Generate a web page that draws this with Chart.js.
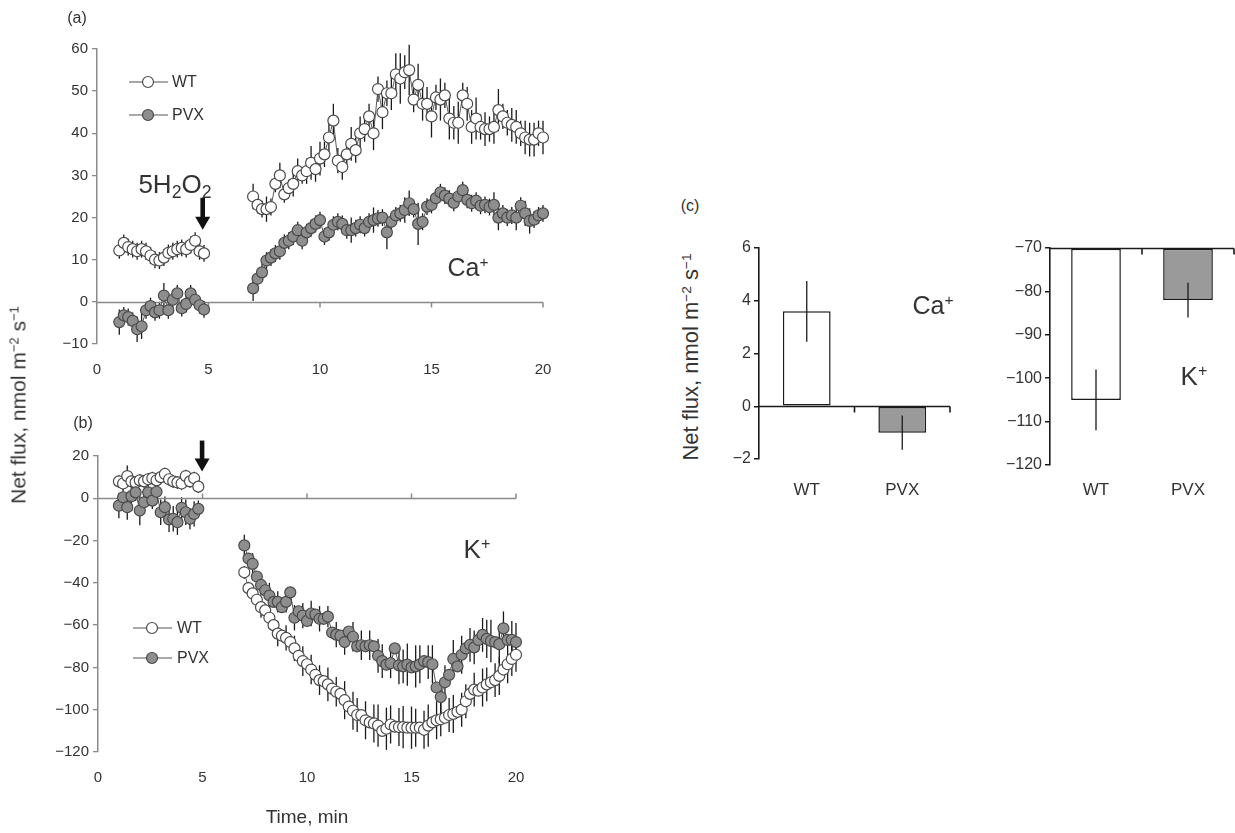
<!DOCTYPE html>
<html>
<head>
<meta charset="utf-8">
<script src="https://cdn.jsdelivr.net/npm/chart.js@4.4.1/dist/chart.umd.min.js"></script>
<style>
  body { margin: 0; background: #fff; }
  #wrap { position: relative; width: 1235px; height: 833px; overflow: hidden;
          font-family: "Liberation Sans", Arial, sans-serif; color: #333; }
  #wrap canvas { position: absolute; }
  .t { position: absolute; transform: translate(-50%, -50%); white-space: nowrap; line-height: 1; }
  .rot { transform: translate(-50%, -50%) rotate(-90deg); }
  sup { font-size: 0.62em; vertical-align: 0.55em; line-height: 0; }
  sub { font-size: 0.68em; vertical-align: -0.3em; line-height: 0; }
</style>
</head>
<body>
<div id="wrap">
  <canvas id="chartA" width="570" height="395" style="left:0;top:0"></canvas>
  <canvas id="chartB" width="570" height="438" style="left:0;top:395px"></canvas>
  <canvas id="chartCa" width="260" height="290" style="left:710px;top:220px"></canvas>
  <canvas id="chartK" width="245" height="290" style="left:990px;top:220px"></canvas>

  <div class="t" style="left:77px;top:18px;font-size:16px">(a)</div>
  <div class="t" style="left:83px;top:423px;font-size:16px">(b)</div>
  <div class="t" style="left:690px;top:206px;font-size:16px">(c)</div>
  <div class="t rot" style="left:18px;top:405px;font-size:21px">Net flux, nmol m<sup>−2</sup> s<sup>−1</sup></div>
  <div class="t rot" style="left:691px;top:357px;font-size:22px">Net flux, nmol m<sup>−2</sup> s<sup>−1</sup></div>
  <div class="t" style="left:175px;top:184px;font-size:26px">5H<sub>2</sub>O<sub>2</sub></div>
  <div class="t" style="left:468px;top:267px;font-size:25px">Ca<sup>+</sup></div>
  <div class="t" style="left:477px;top:549px;font-size:26px">K<sup>+</sup></div>
  <div class="t" style="left:933px;top:305px;font-size:25px">Ca<sup>+</sup></div>
  <div class="t" style="left:1194px;top:376px;font-size:26px">K<sup>+</sup></div>
</div>
<script>
// time points, min
const timeEarly = [1.0, 1.2, 1.4, 1.6, 1.8, 2.0, 2.2, 2.4, 2.6, 2.8, 3.0, 3.2, 3.4, 3.6, 3.8, 4.0, 4.2, 4.4, 4.6, 4.8];
const timeLate = [7.0, 7.2, 7.4, 7.6, 7.8, 8.0, 8.2, 8.4, 8.6, 8.8, 9.0, 9.2, 9.4, 9.6, 9.8,
  10.0, 10.2, 10.4, 10.6, 10.8, 11.0, 11.2, 11.4, 11.6, 11.8, 12.0, 12.2, 12.4, 12.6, 12.8,
  13.0, 13.2, 13.4, 13.6, 13.8, 14.0, 14.2, 14.4, 14.6, 14.8, 15.0, 15.2, 15.4, 15.6, 15.8,
  16.0, 16.2, 16.4, 16.6, 16.8, 17.0, 17.2, 17.4, 17.6, 17.8, 18.0, 18.2, 18.4, 18.6, 18.8,
  19.0, 19.2, 19.4, 19.6, 19.8, 20.0];

// (a) Ca+ flux
const caWTEarly = [12.2, 14, 13, 12.5, 12, 12.5, 12, 11, 10, 9.8, 10.5, 11.6, 12, 12.5, 12.8, 12.5, 13.5, 14.5, 12, 11.5];
const caWTEarlyErr = [2, 2, 2, 2, 2, 2, 2, 2, 2, 2, 2, 2, 2, 2, 2, 2, 2, 2, 2, 2];
const caPVXEarly = [-4.8, -3.2, -3.6, -4.5, -6.5, -5.8, -2, -1, -2.5, -2, 1.5, -2, 0.5, 2, -1.5, -0.5, 2, 0.5, -0.8, -1.8];
const caPVXEarlyErr = [3, 2, 2, 2, 3, 3, 2, 2, 2, 2, 3, 2, 2, 2, 2, 2, 2, 2, 2, 2];
const caWTLate = [25, 23, 22, 22, 22.5, 28, 30, 25.5, 27, 28, 31, 30, 31, 33, 31.5,
  34, 35, 39, 43, 33.5, 32, 35, 37.5, 36, 40, 41, 44, 40, 50.5, 45,
  49.5, 49.5, 54, 53, 54.5, 55, 48, 51.5, 47, 47, 44, 48.5, 48, 49, 43.5,
  42.5, 42.5, 49, 47, 41.5, 43.5, 41.5, 41, 41, 41.5, 45.5, 44, 42.5, 42, 41.5,
  40, 39, 38.5, 38.5, 40, 39];
const caWTLateErr = [3, 2, 2, 3, 2, 2, 3, 2, 2, 3, 3, 2, 3, 4, 3,
  4, 3, 4, 4, 3, 3, 3, 4, 3, 4, 3, 3, 4, 3, 4,
  3, 4, 5, 6, 4, 6, 3, 5, 4, 4, 5, 3, 5, 3, 5,
  4, 5, 3, 4, 4, 5, 3, 4, 3, 4, 5, 3, 3, 4, 4,
  3, 4, 4, 4, 3, 4];
const caPVXLate = [3.2, 5.5, 7, 9.8, 10.5, 11.5, 12, 14, 14.5, 15.5, 17, 14.5, 16.5, 17.5, 18.5,
  19.4, 15.5, 16.5, 18.3, 19, 18.5, 17, 17, 17.5, 18.3, 17.5, 19, 19.4, 19.8, 20,
  16.5, 19, 20.5, 21, 21.8, 23.4, 22, 18.5, 19, 22.6, 23, 24.6, 26, 25.2, 24.5,
  23.5, 25, 26.5, 24.2, 23.4, 24, 22.8, 23, 22.5, 23, 20, 21, 20, 20.5, 20,
  22.8, 21, 19.2, 19.5, 20.5, 21];
const caPVXLateErr = [3, 2, 2, 2, 2, 2, 2, 2, 2, 2, 2, 2, 2, 2, 2,
  2, 2, 2, 2, 2, 2, 2, 3, 2, 2, 2, 2, 3, 2, 2,
  4, 2, 2, 2, 3, 3, 2, 5, 2, 2, 2, 2, 2, 2, 2,
  2, 2, 2, 2, 2, 2, 2, 2, 2, 3, 3, 2, 2, 2, 3,
  2, 3, 3, 2, 2, 2];

// (b) K+ flux
const kWTEarly = [8, 7, 10.5, 8, 7.5, 8.5, 8, 9, 9.5, 8.5, 10, 11.5, 9, 8, 7.5, 7, 10.5, 8, 9.5, 5.5];
const kWTEarlyErr = [3, 3, 5, 3, 3, 3, 3, 3, 3, 3, 3, 3, 3, 3, 3, 3, 3, 3, 3, 3];
const kPVXEarly = [-3.5, 0.5, -4.2, 1, 2.8, -5.8, -1.9, 2.8, -1.1, 3.1, -6.6, -4.2, -10, -9.7, -11.3, -4.5, -6.6, -9.7, -7.4, -5];
const kPVXEarlyErr = [6, 4, 6, 4, 4, 7, 4, 4, 4, 4, 6, 5, 6, 6, 6, 5, 6, 5, 6, 4];
const kWTLate = [-35, -42.5, -45, -48, -51.5, -53, -56.5, -60, -64, -65, -66, -68, -71, -74.5, -77,
  -78.5, -81, -83.5, -86, -86.5, -88, -90, -91.5, -92.5, -95.5, -98.5, -100.5, -102.5, -102.6, -105,
  -106, -106.5, -107.5, -110, -109, -107, -108, -108.2, -108.2, -108.5, -108.5, -108.5, -108.5, -109.5, -107.5,
  -106, -105, -104.5, -103.8, -102.5, -102, -101, -100, -96, -92.5, -90.5, -91, -89.5, -88, -87,
  -86, -84, -81, -78.5, -76, -74];
const kWTLateErr = [3, 3, 3, 4, 5, 2, 5, 2, 6, 2, 6, 2, 6, 2, 7,
  2, 7, 2, 7, 2, 8, 2, 7, 2, 9, 2, 9, 8, 2, 9,
  2, 9, 10, 2, 10, 9, 2, 9, 10, 2, 10, 9, 2, 9, 10,
  2, 9, 8, 2, 8, 9, 2, 8, 8, 2, 8, 2, 9, 8, 2,
  8, 9, 2, 9, 8, 8];
const kPVXLate = [-22.3, -28.5, -31, -37, -41, -43.5, -46, -49, -49, -51.5, -49, -44.5, -56.5, -53.5, -55.5,
  -58, -54.5, -55, -57, -57, -56, -63.5, -64.5, -65, -68, -63, -65.5, -70, -69.5, -70,
  -69.5, -70, -74.5, -77, -78.7, -78, -71, -79, -79.5, -78.7, -80, -79.5, -78.5, -77, -77.5,
  -78.5, -89.5, -94, -87, -83.5, -76, -79.5, -74, -71, -69.3, -70.5, -67, -64.6, -66.5, -67.5,
  -68, -69, -61.5, -67, -67, -68];
const kPVXLateErr = [5, 2, 5, 2, 5, 2, 6, 2, 5, 2, 5, 2, 6, 2, 6,
  2, 6, 2, 6, 2, 5, 2, 6, 2, 6, 2, 7, 2, 7, 2,
  7, 2, 8, 8, 2, 7, 2, 9, 8, 10, 2, 10, 9, 2, 8,
  9, 2, 8, 8, 2, 9, 2, 9, 2, 8, 8, 2, 8, 9, 10,
  2, 9, 8, 2, 9, 9];

// (c) mean fluxes
const groups = ['WT', 'PVX'];
const caMean = [3.6, -1.0];
const caErr = [1.15, 0.65];
const kMean = [-105, -82];
const kErr = [7, 4];

const FONT = '"Liberation Sans", Arial, sans-serif';
Chart.defaults.font.family = FONT;
Chart.defaults.color = '#333';

const minus = v => String(v).replace('-', '\u2212');
const pts = (t, v) => t.map((x, i) => ({ x: x, y: v[i] }));

// vertical error bars through the chart's own scales
const errorBars = {
  id: 'errorBars',
  beforeDatasetsDraw(chart, args, o) { if (!o.front) drawErr(chart); },
  afterDatasetsDraw(chart, args, o) { if (o.front) drawErr(chart); }
};
function drawErr(chart) {
  const ctx = chart.ctx, ys = chart.scales.y;
  ctx.save();
  ctx.strokeStyle = '#1a1a1a';
  ctx.lineWidth = 1.3;
  chart.data.datasets.forEach((ds, i) => {
    if (!ds.err) return;
    chart.getDatasetMeta(i).data.forEach((el, j) => {
      const v = typeof ds.data[j] === 'object' ? ds.data[j].y : ds.data[j];
      const e = ds.err[j];
      ctx.beginPath();
      ctx.moveTo(el.x, ys.getPixelForValue(v + e));
      ctx.lineTo(el.x, ys.getPixelForValue(v - e));
      ctx.stroke();
    });
  });
  ctx.restore();
}

// horizontal axis line drawn at a value (zero line / top line)
const baseLine = {
  id: 'baseLine',
  beforeDatasetsDraw(chart, args, o) {
    if (o.value == null) return;
    const { ctx, chartArea, scales: { x, y } } = chart;
    const py = Math.round(y.getPixelForValue(o.value)) + 0.5;
    ctx.save();
    ctx.strokeStyle = o.color;
    ctx.lineWidth = o.width;
    ctx.beginPath();
    ctx.moveTo(chartArea.left, py);
    ctx.lineTo(chartArea.right, py);
    o.ticks.forEach(t => {
      const px = x.getPixelForValue(t);
      ctx.moveTo(px, py);
      ctx.lineTo(px, py + o.tickLen);
    });
    ctx.stroke();
    ctx.restore();
  }
};

// legend drawn inside the plot: line, marker, label
const inlineLegend = {
  id: 'inlineLegend',
  afterDraw(chart, args, o) {
    if (!o.items) return;
    const ctx = chart.ctx;
    ctx.save();
    o.items.forEach(it => {
      ctx.strokeStyle = '#555';
      ctx.lineWidth = 1.2;
      ctx.beginPath();
      ctx.moveTo(o.x0, it.y);
      ctx.lineTo(o.x1, it.y);
      ctx.stroke();
      ctx.beginPath();
      ctx.arc(o.xc, it.y, 5.5, 0, Math.PI * 2);
      ctx.fillStyle = it.fill;
      ctx.fill();
      ctx.strokeStyle = '#4a4a4a';
      ctx.stroke();
      ctx.fillStyle = '#333';
      ctx.font = '16px ' + FONT;
      ctx.textBaseline = 'middle';
      ctx.fillText(it.text, o.xt, it.y + 1);
    });
    ctx.restore();
  }
};

// treatment arrow
const arrow = {
  id: 'arrow',
  afterDraw(chart, args, o) {
    if (o.x == null) return;
    const { ctx, scales: { x, y } } = chart;
    const px = x.getPixelForValue(o.x);
    const y0 = y.getPixelForValue(o.from), y1 = y.getPixelForValue(o.to);
    ctx.save();
    ctx.fillStyle = '#111';
    ctx.fillRect(px - 2.3, y0, 4.6, (y1 - y0) - 12);
    ctx.beginPath();
    ctx.moveTo(px - 7.5, y1 - 13);
    ctx.lineTo(px + 7.5, y1 - 13);
    ctx.lineTo(px, y1);
    ctx.closePath();
    ctx.fill();
    ctx.restore();
  }
};

const WT_FILL = '#ffffff', PVX_FILL = '#8e8e8e';

function series(label, t, v, err, fill) {
  return {
    label: label,
    data: pts(t, v),
    err: err,
    showLine: true,
    borderColor: '#5a5a5a',
    borderWidth: 1,
    pointRadius: 5.5,
    pointBackgroundColor: fill,
    pointBorderColor: '#4a4a4a',
    pointBorderWidth: 1.2,
    clip: false
  };
}

function fluxChart(id, datasets, cfg) {
  return new Chart(document.getElementById(id), {
    type: 'scatter',
    data: { datasets: datasets },
    options: {
      responsive: false,
      animation: false,
      layout: { padding: cfg.padding },
      plugins: {
        legend: { display: false },
        tooltip: { enabled: false },
        errorBars: { front: false },
        baseLine: { value: 0, ticks: [5, 10, 15, 20], tickLen: cfg.tickLen, color: '#8a8a8a', width: 1.5 },
        inlineLegend: cfg.legend,
        arrow: cfg.arrow
      },
      scales: {
        x: {
          type: 'linear', min: 0, max: 20,
          ticks: { stepSize: 5, padding: 17, font: { size: 15 }, color: '#333' },
          grid: { display: false, drawTicks: false },
          border: { display: false },
          title: cfg.xTitle || { display: false },
          afterFit: s => { s.height = cfg.xHeight; }
        },
        y: {
          min: cfg.yMin, max: cfg.yMax,
          ticks: { stepSize: cfg.yStep, padding: 4, font: { size: 15 }, color: '#333', callback: minus },
          grid: { display: true, drawOnChartArea: false, drawTicks: true, tickLength: 5, color: '#8a8a8a', lineWidth: 1.3 },
          border: { display: true, color: '#8a8a8a', width: 1.5 },
          afterFit: s => { s.width = cfg.yWidth; }
        }
      }
    },
    plugins: [errorBars, baseLine, inlineLegend, arrow]
  });
}

fluxChart('chartA', [
  series('PVX', timeEarly, caPVXEarly, caPVXEarlyErr, PVX_FILL),
  series('PVX', timeLate, caPVXLate, caPVXLateErr, PVX_FILL),
  series('WT', timeEarly, caWTEarly, caWTEarlyErr, WT_FILL),
  series('WT', timeLate, caWTLate, caWTLateErr, WT_FILL)
], {
  padding: { top: 49, right: 27, bottom: 0, left: 0 },
  xHeight: 51, yWidth: 97, yMin: -10, yMax: 60, yStep: 10, tickLen: 5,
  legend: { x0: 129, x1: 168, xc: 148, xt: 172, items: [
    { text: 'WT', y: 82, fill: WT_FILL }, { text: 'PVX', y: 115, fill: PVX_FILL }] },
  arrow: { x: 4.74, from: 24.7, to: 17.1 }
});

fluxChart('chartB', [
  series('PVX', timeEarly, kPVXEarly, kPVXEarlyErr, PVX_FILL),
  series('PVX', timeLate, kPVXLate, kPVXLateErr, PVX_FILL),
  series('WT', timeEarly, kWTEarly, kWTEarlyErr, WT_FILL),
  series('WT', timeLate, kWTLate, kWTLateErr, WT_FILL)
], {
  padding: { top: 61, right: 54, bottom: 0, left: 0 },
  xHeight: 81, yWidth: 98, yMin: -120, yMax: 20, yStep: 20, tickLen: -5,
  xTitle: { display: true, text: 'Time, min', font: { size: 19 }, color: '#333', padding: { top: 0, bottom: 4 } },
  legend: { x0: 133, x1: 172, xc: 152, xt: 177, items: [
    { text: 'WT', y: 233, fill: WT_FILL }, { text: 'PVX', y: 263, fill: PVX_FILL }] },
  arrow: { x: 4.98, from: 27.3, to: 12.7 }
});

function barChart(id, mean, err, cfg) {
  return new Chart(document.getElementById(id), {
    type: 'bar',
    data: {
      labels: groups,
      datasets: [{
        data: mean,
        err: err,
        base: cfg.base,
        backgroundColor: [WT_FILL, '#9a9a9a'],
        borderColor: '#1a1a1a',
        borderWidth: 1.5,
        borderSkipped: false,
        barPercentage: cfg.barPct,
        categoryPercentage: 1
      }]
    },
    options: {
      responsive: false,
      animation: false,
      layout: { padding: cfg.padding },
      plugins: {
        legend: { display: false },
        tooltip: { enabled: false },
        errorBars: { front: true },
        baseLine: { value: cfg.base, ticks: [0.5, 1.5], tickLen: 6, color: '#1a1a1a', width: 1.6 }
      },
      scales: {
        x: {
          ticks: { padding: cfg.xPad, font: { size: 17 }, color: '#333' },
          grid: { display: false, drawTicks: false },
          border: { display: false },
          afterFit: s => { s.height = cfg.xHeight; }
        },
        y: {
          min: cfg.yMin, max: cfg.yMax,
          ticks: { stepSize: cfg.yStep, padding: 3, font: { size: 16 }, color: '#333', callback: minus },
          grid: { display: true, drawOnChartArea: false, drawTicks: true, tickLength: 5, color: '#1a1a1a', lineWidth: 1.5 },
          border: { display: true, color: '#1a1a1a', width: 1.6 },
          afterFit: s => { s.width = cfg.yWidth; }
        }
      }
    },
    plugins: [errorBars, baseLine]
  });
}

barChart('chartCa', caMean, caErr, {
  base: 0, barPct: 0.5, yMin: -2, yMax: 6, yStep: 2,
  padding: { top: 28, right: 20, bottom: 0, left: 0 }, xHeight: 51, yWidth: 49, xPad: 21
});

barChart('chartK', kMean, kErr, {
  base: -70, barPct: 0.54, yMin: -120, yMax: -70, yStep: 10,
  padding: { top: 28, right: 1, bottom: 0, left: 0 }, xHeight: 45, yWidth: 60, xPad: 15
});
</script>
</body>
</html>
